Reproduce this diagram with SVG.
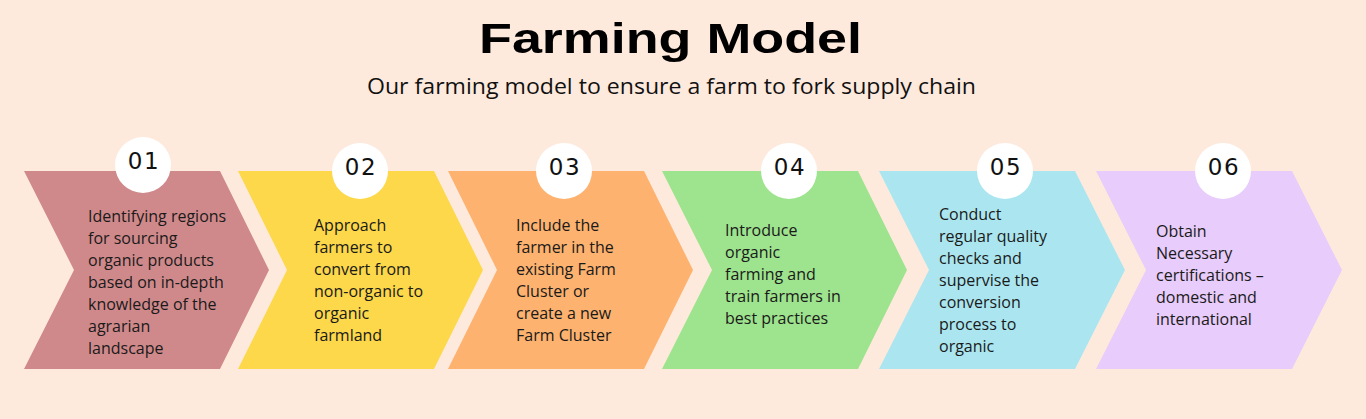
<svg xmlns="http://www.w3.org/2000/svg" width="1366" height="419" viewBox="0 0 1366 419">
<style>
.title{font-family:"Liberation Sans",Arial,sans-serif;font-weight:bold;font-size:43px;fill:#000}
.sub{font-family:"Open Sans","Liberation Sans",sans-serif;font-size:21px;fill:#111}
.num{font-family:"DejaVu Sans","Liberation Sans",sans-serif;font-size:23px;fill:#111;text-anchor:middle;letter-spacing:1.5px}
.body{font-family:"Open Sans","Liberation Sans",sans-serif;font-size:16px;fill:#1a1a1a}
.circ{fill:#ffffff}
</style>
<rect width="1366" height="419" fill="#FEEADD"/>
<text class="title" x="479" y="53" textLength="383" lengthAdjust="spacingAndGlyphs">Farming Model</text>
<text class="sub" x="367" y="94" textLength="609" lengthAdjust="spacingAndGlyphs">Our farming model to ensure a farm to fork supply chain</text>

<g id="step1">
<polygon points="24,171 220,171 269,270 220,369 24,369 74,270" fill="#D0898B"/>
<circle class="circ" cx="143" cy="165" r="28"/>
<text class="num" x="144" y="169">01</text>
<text class="body"><tspan x="88" y="222">Identifying regions</tspan><tspan x="88" y="244">for sourcing</tspan><tspan x="88" y="266">organic products</tspan><tspan x="88" y="288">based on in-depth</tspan><tspan x="88" y="310">knowledge of the</tspan><tspan x="88" y="332">agrarian</tspan><tspan x="88" y="354">landscape</tspan></text>
</g>
<g id="step2">
<polygon points="238,171 434,171 483,270 434,369 238,369 287,270" fill="#FCD84A"/>
<circle class="circ" cx="360" cy="171" r="28"/>
<text class="num" x="361" y="175">02</text>
<text class="body"><tspan x="314" y="231">Approach</tspan><tspan x="314" y="253">farmers to</tspan><tspan x="314" y="275">convert from</tspan><tspan x="314" y="297">non-organic to</tspan><tspan x="314" y="319">organic</tspan><tspan x="314" y="341">farmland</tspan></text>
</g>
<g id="step3">
<polygon points="448,171 644,171 693,270 644,369 448,369 497,270" fill="#FDB26F"/>
<circle class="circ" cx="564" cy="171" r="28"/>
<text class="num" x="565" y="175">03</text>
<text class="body"><tspan x="516" y="231">Include the</tspan><tspan x="516" y="253">farmer in the</tspan><tspan x="516" y="275">existing Farm</tspan><tspan x="516" y="297">Cluster or</tspan><tspan x="516" y="319">create a new</tspan><tspan x="516" y="341">Farm Cluster</tspan></text>
</g>
<g id="step4">
<polygon points="662,171 858,171 907,270 858,369 662,369 712,270" fill="#9EE38D"/>
<circle class="circ" cx="789" cy="171" r="28"/>
<text class="num" x="790" y="175">04</text>
<text class="body"><tspan x="725" y="236">Introduce</tspan><tspan x="725" y="258">organic</tspan><tspan x="725" y="280">farming and</tspan><tspan x="725" y="302">train farmers in</tspan><tspan x="725" y="324">best practices</tspan></text>
</g>
<g id="step5">
<polygon points="879,171 1075,171 1125,270 1075,369 879,369 929,270" fill="#ABE6F0"/>
<circle class="circ" cx="1005" cy="171" r="28"/>
<text class="num" x="1006" y="175">05</text>
<text class="body"><tspan x="939" y="220">Conduct</tspan><tspan x="939" y="242">regular quality</tspan><tspan x="939" y="264">checks and</tspan><tspan x="939" y="286">supervise the</tspan><tspan x="939" y="308">conversion</tspan><tspan x="939" y="330">process to</tspan><tspan x="939" y="352">organic</tspan></text>
</g>
<g id="step6">
<polygon points="1096,171 1292,171 1342,270 1292,369 1096,369 1146,270" fill="#E8CCFB"/>
<circle class="circ" cx="1223" cy="171" r="28"/>
<text class="num" x="1224" y="175">06</text>
<text class="body"><tspan x="1156" y="237">Obtain</tspan><tspan x="1156" y="259">Necessary</tspan><tspan x="1156" y="281">certifications –</tspan><tspan x="1156" y="303">domestic and</tspan><tspan x="1156" y="325">international</tspan></text>
</g>
<g id="connectors"></g>
</svg>
